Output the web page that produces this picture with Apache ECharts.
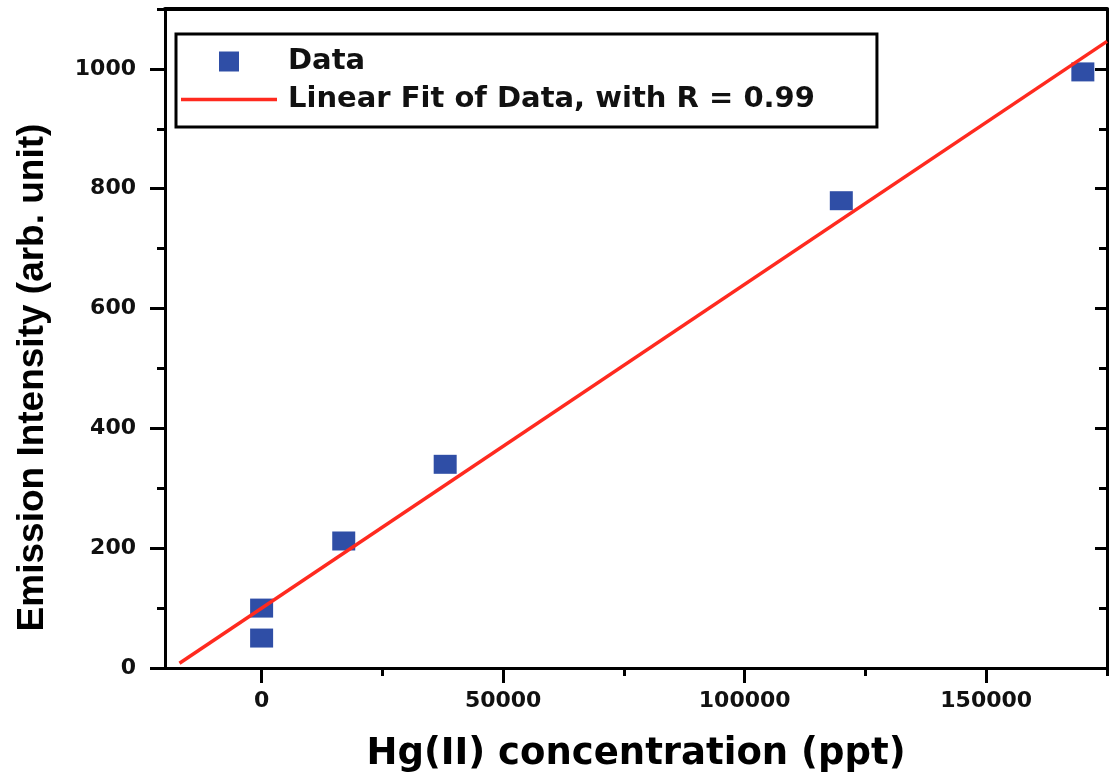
<!DOCTYPE html>
<html>
<head>
<meta charset="utf-8">
<title>Hg(II) emission intensity</title>
<script src="https://cdn.jsdelivr.net/npm/echarts@6/dist/echarts.min.js"></script>
<style>
  html, body { margin: 0; padding: 0; background: #fff; }
  #chart { width: 1109px; height: 778px; }
</style>
</head>
<body>
<div id="chart"></div>
<script>
// measured points
const concentration = [0, 0, 17000, 38000, 120000, 170000]
const intensity = [50, 100, 212, 340, 780, 995]
// fitted line at both ends
const fitX = [-17000, 175000]
const fitY = [8, 1046]
// ticks
const xLabelTicks = [0, 50000, 100000, 150000]
const xMinorTicks = [25000, 75000, 125000, 175000]
const yLabelTicks = [0, 200, 400, 600, 800, 1000]
const yMinorTicks = [100, 300, 500, 700, 900, 1100]

const black = '#000'
const tickFont = { fontFamily: 'DejaVu Sans', fontWeight: 'bold', fontSize: 22, color: '#111' }
const plain = v => String(v)

function tickAxis(position, values, len, inside) {
  return {
    type: 'value',
    position: position,
    axisLine: { show: false, onZero: false },
    axisTick: { show: true, customValues: values, length: len, inside: !!inside, lineStyle: { color: black, width: 3 } },
    axisLabel: { show: false },
    splitLine: { show: false }
  }
}

const chart = echarts.init(document.getElementById('chart'))

const xMain = {
  type: 'value',
  position: 'bottom',
  min: -20000,
  max: 175000,
  name: 'Hg(II) concentration (ppt)',
  nameLocation: 'middle',
  nameGap: 68,
  nameTextStyle: { fontFamily: 'DejaVu Sans', fontWeight: 'bold', fontSize: 37, color: black },
  axisLine: { show: true, onZero: false, lineStyle: { color: black, width: 3 } },
  axisTick: { show: true, customValues: xLabelTicks, length: 15, lineStyle: { color: black, width: 3 } },
  axisLabel: Object.assign({ customValues: xLabelTicks, margin: 22, formatter: plain }, tickFont),
  splitLine: { show: false }
}
const xMinor = Object.assign(tickAxis('bottom', xMinorTicks, 8), { min: -20000, max: 175000 })
const xTop = {
  type: 'value', position: 'top', min: -20000, max: 175000,
  axisLine: { show: true, onZero: false, lineStyle: { color: black, width: 4 } },
  axisTick: { show: false }, axisLabel: { show: false }, splitLine: { show: false }
}

const yMain = {
  type: 'value',
  position: 'left',
  min: 0,
  max: 1100,
  name: 'Emission Intensity (arb. unit)',
  nameLocation: 'middle',
  nameRotate: 90,
  nameGap: 114,
  nameTextStyle: { fontFamily: 'Liberation Sans', fontWeight: 'bold', fontSize: 37, color: black, padding: [0, 78, 0, 0] },
  axisLine: { show: true, onZero: false, lineStyle: { color: black, width: 3 } },
  axisTick: { show: true, customValues: yLabelTicks, length: 15, lineStyle: { color: black, width: 3 } },
  axisLabel: Object.assign({ customValues: yLabelTicks, margin: 29, formatter: plain }, tickFont),
  splitLine: { show: false }
}
const yMinor = Object.assign(tickAxis('left', yMinorTicks, 8), { min: 0, max: 1100 })
const yRight = Object.assign(tickAxis('right', yLabelTicks, 12, true), { min: 0, max: 1100 })
yRight.axisLine = { show: true, onZero: false, lineStyle: { color: black, width: 3 } }
const yRightMinor = Object.assign(tickAxis('right', yMinorTicks, 8, true), { min: 0, max: 1100 })

chart.setOption({
  animation: false,
  backgroundColor: '#fff',
  grid: { left: 165, right: 2, top: 9, bottom: 110 },
  legend: {
    orient: 'vertical',
    left: 176,
    top: 34,
    padding: [13, 62, 13, 5],
    itemWidth: 96,
    itemHeight: 20,
    itemGap: 9,
    borderColor: black,
    borderWidth: 3,
    textStyle: { fontFamily: 'DejaVu Sans', fontWeight: 'bold', fontSize: 29, lineHeight: 29, color: '#111', padding: [0, 0, 0, 6] },
    data: [
      { name: 'Data', icon: 'path://M0 0H10V10H0Z' },
      { name: 'Linear Fit of Data, with R = 0.99', icon: 'path://M0 0H96V3.5H0Z' }
    ]
  },
  xAxis: [xMain, xMinor, xTop],
  yAxis: [yMain, yMinor, yRight, yRightMinor],
  series: [
    {
      name: 'Linear Fit of Data, with R = 0.99',
      type: 'line',
      xAxisIndex: 0,
      yAxisIndex: 0,
      symbol: 'none',
      lineStyle: { color: '#ff2a1f', width: 3.5 },
      itemStyle: { color: '#ff2a1f' },
      data: fitX.map((x, i) => [x, fitY[i]])
    },
    {
      name: 'Data',
      type: 'scatter',
      xAxisIndex: 0,
      yAxisIndex: 0,
      symbol: 'rect',
      symbolSize: [23, 19],
      itemStyle: { color: '#2f4ea6', opacity: 1 },
      data: concentration.map((x, i) => [x, intensity[i]])
    }
  ]
})
</script>
</body>
</html>
